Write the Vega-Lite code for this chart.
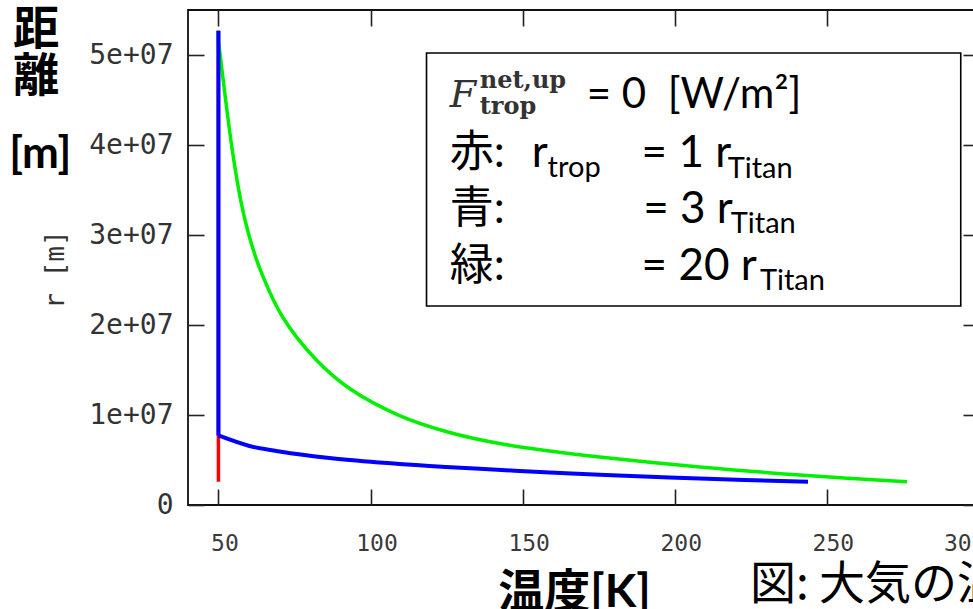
{
  "$schema": "https://vega.github.io/schema/vega-lite/v6.json",
  "width": 791,
  "height": 495,
  "autosize": {"type": "none"},
  "padding": {"left": 188, "top": 10, "right": -6, "bottom": 104},
  "background": "white",
  "config": {
    "view": {"stroke": "#111111", "strokeWidth": 1.8},
    "axis": {"grid": false, "domain": false, "tickColor": "#222222", "tickWidth": 1.6},
    "text": {"font": "Lato, Noto Sans CJK JP", "color": "black", "align": "left", "baseline": "alphabetic"}
  },
  "data": {"values": [{}]},
  "datasets": {
    "profiles": [
      {"series": "1 r_Titan", "part": "isothermal", "i": 0, "T": 50, "r": 2575000},
      {"series": "1 r_Titan", "part": "isothermal", "i": 1, "T": 50, "r": 52700000},

      {"series": "20 r_Titan", "part": "curve", "i": 0, "T": 276.3, "r": 2575000},
      {"series": "20 r_Titan", "part": "curve", "i": 1, "T": 241.1, "r": 3330000},
      {"series": "20 r_Titan", "part": "curve", "i": 2, "T": 208.2, "r": 4220000},
      {"series": "20 r_Titan", "part": "curve", "i": 3, "T": 175.3, "r": 5330000},
      {"series": "20 r_Titan", "part": "curve", "i": 4, "T": 158.9, "r": 6000000},
      {"series": "20 r_Titan", "part": "curve", "i": 5, "T": 142.4, "r": 6830000},
      {"series": "20 r_Titan", "part": "curve", "i": 6, "T": 126.0, "r": 8060000},
      {"series": "20 r_Titan", "part": "curve", "i": 7, "T": 109.5, "r": 9940000},
      {"series": "20 r_Titan", "part": "curve", "i": 8, "T": 93.1, "r": 12940000},
      {"series": "20 r_Titan", "part": "curve", "i": 9, "T": 82.2, "r": 16110000},
      {"series": "20 r_Titan", "part": "curve", "i": 10, "T": 71.1, "r": 20890000},
      {"series": "20 r_Titan", "part": "curve", "i": 11, "T": 63.8, "r": 26100000},
      {"series": "20 r_Titan", "part": "curve", "i": 12, "T": 60.2, "r": 29780000},
      {"series": "20 r_Titan", "part": "curve", "i": 13, "T": 57.5, "r": 33560000},
      {"series": "20 r_Titan", "part": "curve", "i": 14, "T": 54.7, "r": 39100000},
      {"series": "20 r_Titan", "part": "curve", "i": 15, "T": 52.5, "r": 44670000},
      {"series": "20 r_Titan", "part": "curve", "i": 16, "T": 50.5, "r": 50200000},
      {"series": "20 r_Titan", "part": "curve", "i": 17, "T": 50, "r": 51500000},
      {"series": "20 r_Titan", "part": "isothermal", "i": 17, "T": 50, "r": 51500000},
      {"series": "20 r_Titan", "part": "isothermal", "i": 18, "T": 50, "r": 52700000},

      {"series": "3 r_Titan", "part": "curve", "i": 0, "T": 243.8, "r": 2575000},
      {"series": "3 r_Titan", "part": "curve", "i": 1, "T": 208.2, "r": 2940000},
      {"series": "3 r_Titan", "part": "curve", "i": 2, "T": 175.3, "r": 3370000},
      {"series": "3 r_Titan", "part": "curve", "i": 3, "T": 158.9, "r": 3610000},
      {"series": "3 r_Titan", "part": "curve", "i": 4, "T": 135.9, "r": 4020000},
      {"series": "3 r_Titan", "part": "curve", "i": 5, "T": 119.4, "r": 4330000},
      {"series": "3 r_Titan", "part": "curve", "i": 6, "T": 103.0, "r": 4720000},
      {"series": "3 r_Titan", "part": "curve", "i": 7, "T": 86.5, "r": 5220000},
      {"series": "3 r_Titan", "part": "curve", "i": 8, "T": 70.1, "r": 5940000},
      {"series": "3 r_Titan", "part": "curve", "i": 9, "T": 60.2, "r": 6560000},
      {"series": "3 r_Titan", "part": "curve", "i": 10, "T": 50, "r": 7725000},
      {"series": "3 r_Titan", "part": "isothermal", "i": 10, "T": 50, "r": 7725000},
      {"series": "3 r_Titan", "part": "isothermal", "i": 11, "T": 50, "r": 52700000}
    ]
  },
  "layer": [
    {
      "data": {"name": "profiles"},
      "transform": [{"filter": "datum.series === '1 r_Titan'"}],
      "mark": {"type": "line", "color": "#ff0000", "strokeWidth": 3.5},
      "encoding": {
        "x": {"field": "T", "type": "quantitative", "scale": {"domain": [40, 300], "nice": false, "zero": false},
              "axis": {"orient": "top", "values": [50, 100, 150, 200, 250, 300], "labels": false, "tickSize": -16, "title": null}},
        "y": {"field": "r", "type": "quantitative", "scale": {"domain": [0, 55000000], "nice": false},
              "axis": {"orient": "right", "values": [0, 10000000, 20000000, 30000000, 40000000, 50000000], "labels": false, "tickSize": -16, "title": null}},
        "order": {"field": "i", "type": "quantitative"}
      }
    },
    {
      "data": {"name": "profiles"},
      "transform": [{"filter": "datum.series === '20 r_Titan' && datum.part === 'curve'"}],
      "mark": {"type": "line", "color": "#00f000", "strokeWidth": 3.5, "interpolate": "catmull-rom"},
      "encoding": {
        "x": {"field": "T", "type": "quantitative",
              "axis": {"orient": "bottom", "values": [50, 100, 150, 200, 250, 300], "tickSize": -16,
                       "labelFont": "DejaVu Sans Mono", "labelFontSize": 23, "labelColor": "#3a3a3a", "labelPadding": 43, "labelOffset": 6,
                       "title": "温度[K]", "titleFont": "Lato, Noto Sans CJK JP", "titleFontSize": 46, "titleFontWeight": "bold", "titleColor": "black",
                       "titleX": 386, "titleY": 101, "titleAlign": "center", "titleBaseline": "alphabetic"}},
        "y": {"field": "r", "type": "quantitative",
              "axis": {"orient": "left", "values": [0, 10000000, 20000000, 30000000, 40000000, 50000000], "tickSize": -16,
                       "labelExpr": "datum.value == 0 ? '0' : format(datum.value / 10000000, 'd') + 'e+07'",
                       "labelFont": "DejaVu Sans Mono", "labelFontSize": 28, "labelColor": "#333333", "labelPadding": 31,
                       "title": "r [m]", "titleFont": "DejaVu Sans Mono", "titleFontSize": 26, "titleFontWeight": "normal", "titleColor": "#333333",
                       "titleX": -133, "titleY": 259, "titleAlign": "center", "titleBaseline": "middle"}},
        "order": {"field": "i", "type": "quantitative"}
      }
    },
    {
      "data": {"name": "profiles"},
      "transform": [{"filter": "datum.series === '20 r_Titan' && datum.part === 'isothermal'"}],
      "mark": {"type": "line", "color": "#00f000", "strokeWidth": 3.5},
      "encoding": {
        "x": {"field": "T", "type": "quantitative", "axis": null},
        "y": {"field": "r", "type": "quantitative", "axis": null},
        "order": {"field": "i", "type": "quantitative"}
      }
    },
    {
      "data": {"name": "profiles"},
      "transform": [{"filter": "datum.series === '3 r_Titan' && datum.part === 'curve'"}],
      "mark": {"type": "line", "color": "#0000ff", "strokeWidth": 4, "interpolate": "catmull-rom"},
      "encoding": {
        "x": {"field": "T", "type": "quantitative", "axis": null},
        "y": {"field": "r", "type": "quantitative", "axis": null},
        "order": {"field": "i", "type": "quantitative"}
      }
    },
    {
      "data": {"name": "profiles"},
      "transform": [{"filter": "datum.series === '3 r_Titan' && datum.part === 'isothermal'"}],
      "mark": {"type": "line", "color": "#0000ff", "strokeWidth": 4},
      "encoding": {
        "x": {"field": "T", "type": "quantitative", "axis": null},
        "y": {"field": "r", "type": "quantitative", "axis": null},
        "order": {"field": "i", "type": "quantitative"}
      }
    },
    {
      "mark": {"type": "rect", "fill": "white", "stroke": "black", "strokeWidth": 1.6},
      "encoding": {
        "x": {"datum": 118.4, "type": "quantitative", "axis": null},
        "x2": {"datum": 294},
        "y": {"datum": 22110000, "type": "quantitative", "axis": null},
        "y2": {"datum": 50220000}
      }
    },
    {
      "mark": {"type": "text", "font": "DejaVu Serif", "fontStyle": "italic", "fontSize": 38, "color": "#333333"},
      "encoding": {"x": {"datum": 126.0, "type": "quantitative", "axis": null}, "y": {"datum": 44220000, "type": "quantitative", "axis": null}, "text": {"value": "F"}}
    },
    {
      "mark": {"type": "text", "font": "DejaVu Serif", "fontWeight": "bold", "fontSize": 24, "color": "#333333"},
      "encoding": {"x": {"datum": 135.9, "type": "quantitative", "axis": null}, "y": {"datum": 46330000, "type": "quantitative", "axis": null}, "text": {"value": "net,up"}}
    },
    {
      "mark": {"type": "text", "font": "DejaVu Serif", "fontWeight": "bold", "fontSize": 24, "color": "#333333"},
      "encoding": {"x": {"datum": 135.9, "type": "quantitative", "axis": null}, "y": {"datum": 43440000, "type": "quantitative", "axis": null}, "text": {"value": "trop"}}
    },
    {
      "mark": {"type": "text", "fontSize": 42},
      "encoding": {"x": {"datum": 171.05, "type": "quantitative", "axis": null}, "y": {"datum": 44110000, "type": "quantitative", "axis": null}, "text": {"value": "= 0\u00a0\u00a0[W/m²]"}}
    },
    {
      "mark": {"type": "text", "fontSize": 44},
      "encoding": {"x": {"datum": 126.0, "type": "quantitative", "axis": null}, "y": {"datum": 37560000, "type": "quantitative", "axis": null}, "text": {"value": "赤:"}}
    },
    {
      "mark": {"type": "text", "fontSize": 44},
      "encoding": {"x": {"datum": 153.0, "type": "quantitative", "axis": null}, "y": {"datum": 37560000, "type": "quantitative", "axis": null}, "text": {"value": "r"}}
    },
    {
      "mark": {"type": "text", "fontSize": 29},
      "encoding": {"x": {"datum": 158.2, "type": "quantitative", "axis": null}, "y": {"datum": 36440000, "type": "quantitative", "axis": null}, "text": {"value": "trop"}}
    },
    {
      "mark": {"type": "text", "fontSize": 44},
      "encoding": {"x": {"datum": 189.1, "type": "quantitative", "axis": null}, "y": {"datum": 37560000, "type": "quantitative", "axis": null}, "text": {"value": "= 1 r"}}
    },
    {
      "mark": {"type": "text", "fontSize": 29},
      "encoding": {"x": {"datum": 217.4, "type": "quantitative", "axis": null}, "y": {"datum": 36330000, "type": "quantitative", "axis": null}, "text": {"value": "Titan"}}
    },
    {
      "mark": {"type": "text", "fontSize": 44},
      "encoding": {"x": {"datum": 126.0, "type": "quantitative", "axis": null}, "y": {"datum": 31330000, "type": "quantitative", "axis": null}, "text": {"value": "青:"}}
    },
    {
      "mark": {"type": "text", "fontSize": 44},
      "encoding": {"x": {"datum": 189.6, "type": "quantitative", "axis": null}, "y": {"datum": 31330000, "type": "quantitative", "axis": null}, "text": {"value": "= 3 r"}}
    },
    {
      "mark": {"type": "text", "fontSize": 29},
      "encoding": {"x": {"datum": 218.4, "type": "quantitative", "axis": null}, "y": {"datum": 30220000, "type": "quantitative", "axis": null}, "text": {"value": "Titan"}}
    },
    {
      "mark": {"type": "text", "fontSize": 44},
      "encoding": {"x": {"datum": 126.0, "type": "quantitative", "axis": null}, "y": {"datum": 25000000, "type": "quantitative", "axis": null}, "text": {"value": "緑:"}}
    },
    {
      "mark": {"type": "text", "fontSize": 44},
      "encoding": {"x": {"datum": 189.1, "type": "quantitative", "axis": null}, "y": {"datum": 25000000, "type": "quantitative", "axis": null}, "text": {"value": "= 20 r"}}
    },
    {
      "mark": {"type": "text", "fontSize": 29},
      "encoding": {"x": {"datum": 228.0, "type": "quantitative", "axis": null}, "y": {"datum": 23890000, "type": "quantitative", "axis": null}, "text": {"value": "Titan"}}
    },
    {
      "mark": {"type": "text", "font": "Noto Sans CJK JP", "fontWeight": "bold", "fontSize": 46, "align": "center", "baseline": "middle"},
      "encoding": {"x": {"datum": -9.87, "type": "quantitative", "axis": null}, "y": {"datum": 52780000, "type": "quantitative", "axis": null}, "text": {"value": "距"}}
    },
    {
      "mark": {"type": "text", "font": "Noto Sans CJK JP", "fontWeight": "bold", "fontSize": 46, "align": "center", "baseline": "middle"},
      "encoding": {"x": {"datum": -9.87, "type": "quantitative", "axis": null}, "y": {"datum": 47560000, "type": "quantitative", "axis": null}, "text": {"value": "離"}}
    },
    {
      "mark": {"type": "text", "fontWeight": "bold", "fontSize": 44, "align": "center", "baseline": "middle"},
      "encoding": {"x": {"datum": -8.55, "type": "quantitative", "axis": null}, "y": {"datum": 38890000, "type": "quantitative", "axis": null}, "text": {"value": "[m]"}}
    },
    {
      "mark": {"type": "text", "font": "Noto Sans CJK JP", "fontSize": 46},
      "encoding": {"x": {"datum": 224.7, "type": "quantitative", "axis": null}, "y": {"datum": -10400000, "type": "quantitative", "axis": null}, "text": {"value": "図: 大気の温度分布"}}
    }
  ],
  "resolve": {"axis": {"x": "independent", "y": "independent"}}
}
